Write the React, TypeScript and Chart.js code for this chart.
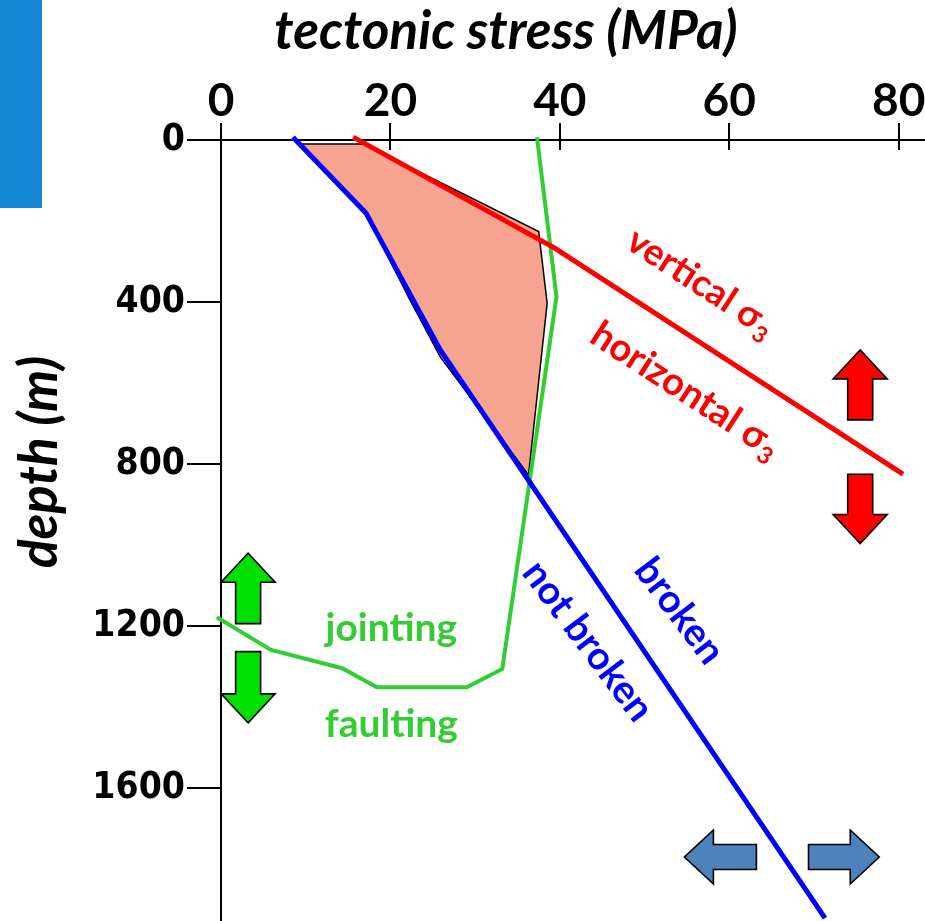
import React, { useEffect, useRef } from "react";
import { Chart, registerables } from "chart.js";

Chart.register(...registerables);

// Axis ticks
const stressTicks = [0, 20, 40, 60, 80]; // MPa
const depthTicks = [0, 400, 800, 1200, 1600]; // m

// σ3 profile (red)
const sigma3Stress = [15.6, 39.4, 80.5];
const sigma3Depth = [-7, 267, 825];

// failure envelope (blue)
const envelopeStress = [8.5, 17.1, 25.9, 71.3];
const envelopeDepth = [-7, 180, 519, 1921];

// jointing / faulting transition (green)
const transitionStress = [37.3, 39.6, 33.2, 29.0, 18.4, 14.3, 5.9, -0.5];
const transitionDepth = [-7, 387, 1306, 1351, 1351, 1304, 1259, 1178];

// shaded field between envelope and σ3
const fieldStress = [9.3, 16.8, 37.5, 38.5, 36.3, 25.9, 22.3, 17.1, 9.3];
const fieldDepth = [10, 10, 226, 403, 827, 536, 395, 180, 10];

type Arrow = { from: [number, number]; to: [number, number]; color: string };
const arrows: Arrow[] = [
  { from: [3.2, 1194], to: [3.2, 1020], color: "#00e000" },
  { from: [3.2, 1263], to: [3.2, 1439], color: "#00e000" },
  { from: [75.45, 691], to: [75.45, 518], color: "#ff0000" },
  { from: [75.45, 825], to: [75.45, 996], color: "#ff0000" },
  { from: [63.2, 1770], to: [54.7, 1770], color: "#4f81bd" },
  { from: [69.35, 1770], to: [77.7, 1770], color: "#4f81bd" },
];

type Label = { text: string; sub?: string; at: [number, number]; angle: number; color: string; size: number };
const labels: Label[] = [
  { text: "vertical σ", sub: "3", at: [56.6, 352], angle: 33, color: "#ff0000", size: 37 },
  { text: "horizontal σ", sub: "3", at: [54.8, 617], angle: 33, color: "#ff0000", size: 38 },
  { text: "broken", at: [54.1, 1163], angle: 53, color: "#0000ff", size: 39 },
  { text: "not broken", at: [43.3, 1237], angle: 53, color: "#0000ff", size: 39 },
  { text: "jointing", at: [20.1, 1205], angle: 0, color: "#33cc33", size: 39 },
  { text: "faulting", at: [20.1, 1442], angle: 0, color: "#33cc33", size: 39 },
];

const pts = (xs: number[], ys: number[]) => xs.map((x, i) => ({ x, y: ys[i] }));

function drawArrow(ctx: CanvasRenderingContext2D, x0: number, y0: number, x1: number, y1: number, color: string) {
  const len = Math.hypot(x1 - x0, y1 - y0);
  const ux = (x1 - x0) / len;
  const uy = (y1 - y0) / len;
  const nx = -uy;
  const ny = ux;
  const sw = 12.5;
  const hw = 27;
  const hl = 29;
  const bx = x1 - ux * hl;
  const by = y1 - uy * hl;
  ctx.beginPath();
  ctx.moveTo(x0 + nx * sw, y0 + ny * sw);
  ctx.lineTo(bx + nx * sw, by + ny * sw);
  ctx.lineTo(bx + nx * hw, by + ny * hw);
  ctx.lineTo(x1, y1);
  ctx.lineTo(bx - nx * hw, by - ny * hw);
  ctx.lineTo(bx - nx * sw, by - ny * sw);
  ctx.lineTo(x0 - nx * sw, y0 - ny * sw);
  ctx.closePath();
  ctx.fillStyle = color;
  ctx.fill();
  ctx.strokeStyle = "#000";
  ctx.lineWidth = 1.6;
  ctx.lineJoin = "miter";
  ctx.stroke();
}

function drawLabel(ctx: CanvasRenderingContext2D, l: Label, px: number, py: number) {
  ctx.save();
  ctx.translate(px, py);
  ctx.rotate((l.angle * Math.PI) / 180);
  ctx.fillStyle = l.color;
  ctx.textBaseline = "middle";
  ctx.textAlign = "left";
  const main = `bold ${l.size}px Lato, "DejaVu Sans", sans-serif`;
  const small = `bold ${Math.round(l.size * 0.62)}px Lato, "DejaVu Sans", sans-serif`;
  ctx.font = main;
  const w1 = ctx.measureText(l.text).width;
  let w2 = 0;
  if (l.sub) {
    ctx.font = small;
    w2 = ctx.measureText(l.sub).width;
  }
  const start = -(w1 + w2) / 2;
  ctx.font = main;
  ctx.fillText(l.text, start, 0);
  if (l.sub) {
    ctx.font = small;
    ctx.fillText(l.sub, start + w1 + 1, l.size * 0.32);
  }
  ctx.restore();
}

const overlay = {
  id: "overlay",
  afterDatasetsDraw(chart: any) {
    const { ctx, chartArea } = chart;
    const xs = chart.scales.x;
    const ys = chart.scales.y;
    ctx.save();
    // tick marks crossing into the plot below the stress axis
    ctx.strokeStyle = "#000";
    ctx.lineWidth = 2;
    stressTicks.forEach((v) => {
      const px = Math.round(xs.getPixelForValue(v));
      ctx.beginPath();
      ctx.moveTo(px, chartArea.top);
      ctx.lineTo(px, chartArea.top + 10);
      ctx.stroke();
    });
    arrows.forEach((a) =>
      drawArrow(
        ctx,
        xs.getPixelForValue(a.from[0]),
        ys.getPixelForValue(a.from[1]),
        xs.getPixelForValue(a.to[0]),
        ys.getPixelForValue(a.to[1]),
        a.color
      )
    );
    labels.forEach((l) => drawLabel(ctx, l, xs.getPixelForValue(l.at[0]), ys.getPixelForValue(l.at[1])));

    // axis titles
    ctx.fillStyle = "#000";
    ctx.textAlign = "center";
    ctx.textBaseline = "middle";
    ctx.font = 'italic bold 53px Lato, "DejaVu Sans", sans-serif';
    ctx.fillText("tectonic stress (MPa)", 506, 32);
    ctx.save();
    ctx.translate(40, 462);
    ctx.rotate(-Math.PI / 2);
    ctx.fillText("depth (m)", 0, 0);
    ctx.restore();
    ctx.restore();
  },
};

export default function App() {
  const ref = useRef<HTMLCanvasElement>(null);

  useEffect(() => {
    if (!ref.current) return;
    const chart = new Chart(ref.current, {
      type: "scatter",
      data: {
        datasets: [
          {
            data: pts(envelopeStress, envelopeDepth),
            showLine: true,
            borderColor: "#0000ff",
            borderWidth: 5,
            borderJoinStyle: "round",
            pointRadius: 0,
            clip: false,
          },
          {
            data: pts(sigma3Stress, sigma3Depth),
            showLine: true,
            borderColor: "#ff0000",
            borderWidth: 5,
            pointRadius: 0,
            clip: false,
          },
          {
            data: pts(transitionStress, transitionDepth),
            showLine: true,
            borderColor: "#33cc33",
            borderWidth: 4,
            pointRadius: 0,
            clip: false,
          },
          {
            data: pts(fieldStress, fieldDepth),
            showLine: true,
            borderColor: "#000",
            borderWidth: 1.5,
            backgroundColor: "#f6a48f",
            fill: "shape",
            pointRadius: 0,
            clip: false,
          },
        ],
      } as any,
      options: {
        responsive: false,
        animation: false,
        events: [],
        layout: { padding: 0 },
        plugins: { legend: { display: false }, tooltip: { enabled: false } },
        scales: {
          x: {
            type: "linear",
            position: "top",
            min: 0,
            max: 83.1,
            afterBuildTicks: (s: any) => {
              s.ticks = stressTicks.map((v) => ({ value: v }));
            },
            afterFit: (s: any) => {
              s.height = 140;
              s.paddingLeft = 0;
              s.paddingRight = 0;
            },
            grid: { drawOnChartArea: false, drawTicks: true, tickLength: 17, color: "#000", lineWidth: 2 },
            border: { display: true, color: "#000", width: 2 },
            ticks: {
              color: "#000",
              padding: -1,
              autoSkip: false,
              maxRotation: 0,
              font: { family: "Lato", weight: "bold", size: 46, lineHeight: 1 },
              callback: (v: any) => String(v),
            },
          },
          y: {
            type: "linear",
            position: "left",
            reverse: true,
            min: 0,
            max: 1928,
            afterBuildTicks: (s: any) => {
              s.ticks = depthTicks.map((v) => ({ value: v }));
            },
            afterFit: (s: any) => {
              s.width = 221;
              s.paddingTop = 0;
              s.paddingBottom = 0;
            },
            grid: { drawOnChartArea: false, drawTicks: true, tickLength: 34, color: "#000", lineWidth: 2 },
            border: { display: true, color: "#000", width: 2 },
            ticks: {
              color: "#000",
              padding: 2,
              autoSkip: false,
              font: { family: '"DejaVu Sans Condensed", "DejaVu Sans"', weight: "bold", size: 37 },
              callback: (v: any) => String(v),
            },
          },
        },
      } as any,
      plugins: [overlay],
    });
    return () => chart.destroy();
  }, []);

  return (
    <div style={{ position: "fixed", left: 0, top: 0, width: 925, height: 921, background: "#fff" }}>
      <div style={{ position: "absolute", left: 0, top: 0, width: 42, height: 208, background: "#1487d4" }} />
      <canvas ref={ref} width={925} height={921} style={{ position: "absolute", left: 0, top: 0 }} />
    </div>
  );
}
